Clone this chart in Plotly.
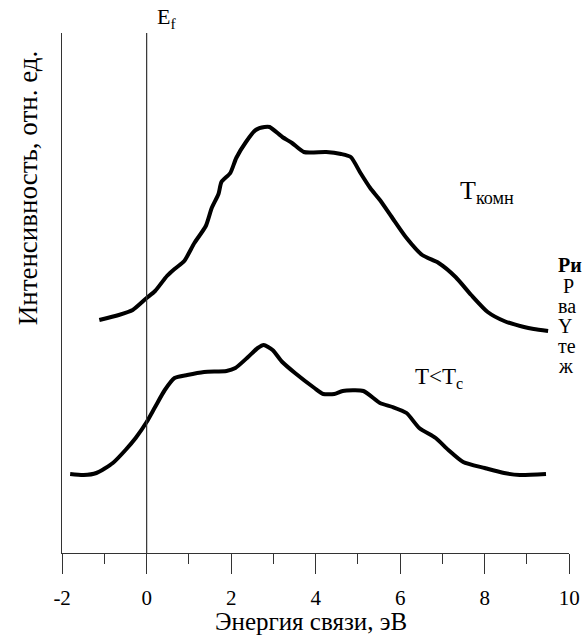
import plotly.graph_objects as go

# Binding energy (eV) and intensity (arb. units)
upper_x = [-1.12, -0.66, -0.33, 0.0, 0.20, 0.48, 0.66, 0.89, 1.13, 1.40, 1.54, 1.70, 1.77,
           1.98, 2.12, 2.35, 2.58, 2.79, 2.91, 3.21, 3.44, 3.72, 4.25, 4.60, 4.83, 5.06,
           5.29, 5.52, 5.80, 6.15, 6.52, 6.91, 7.31, 7.68, 8.07, 8.46, 8.93, 9.16, 9.50]
upper_y = [2.33, 2.38, 2.43, 2.55, 2.62, 2.77, 2.84, 2.92, 3.10, 3.27, 3.45, 3.59, 3.71,
           3.80, 3.95, 4.11, 4.23, 4.26, 4.26, 4.16, 4.10, 4.01, 4.01, 3.99, 3.96, 3.80,
           3.65, 3.53, 3.36, 3.15, 2.98, 2.90, 2.76, 2.58, 2.41, 2.32, 2.26, 2.24, 2.22]

lower_x = [-1.81, -1.49, -1.19, -0.80, -0.50, -0.26, 0.0, 0.20, 0.43, 0.66, 0.96, 1.36,
           1.89, 2.10, 2.40, 2.63, 2.77, 2.98, 3.21, 3.51, 3.97, 4.18, 4.44, 4.64, 5.13,
           5.52, 5.82, 6.15, 6.45, 6.84, 7.14, 7.49, 8.00, 8.46, 8.83, 9.45]
lower_y = [0.79, 0.78, 0.80, 0.90, 1.03, 1.15, 1.31, 1.46, 1.63, 1.75, 1.78, 1.81,
           1.82, 1.85, 1.96, 2.05, 2.08, 2.03, 1.91, 1.80, 1.65, 1.59, 1.59, 1.62, 1.62,
           1.50, 1.46, 1.40, 1.25, 1.15, 1.03, 0.91, 0.85, 0.80, 0.78, 0.79]

x_ticks = [-2, 0, 2, 4, 6, 8, 10]
x_tick_labels = ["-2", "0", "2", "4", "6", "8", "10"]
fermi_level = 0.0

FONT = "Liberation Serif, Times New Roman, DejaVu Serif, serif"
W, H = 587, 636
X0, X1, Y0, Y1 = 55, 580, 33, 553  # plot area in pixels

fig = go.Figure()
for xs, ys in [(upper_x, upper_y), (lower_x, lower_y)]:
    fig.add_trace(go.Scatter(x=xs, y=ys, mode="lines",
                             line=dict(color="black", width=4, shape="spline", smoothing=0.6),
                             showlegend=False, hoverinfo="skip"))

# Fermi level line
fig.add_shape(type="line", xref="x", yref="paper", x0=fermi_level, x1=fermi_level,
              y0=1 - Y1 / H, y1=1 - Y0 / H, line=dict(color="#333", width=1.2))

fig.update_layout(
    width=W, height=H, margin=dict(l=0, r=0, t=0, b=0),
    paper_bgcolor="white", plot_bgcolor="white",
    font=dict(family=FONT, color="black", size=21),
    xaxis=dict(domain=[X0 / W, X1 / W], range=[-2, 10], tickvals=x_ticks, ticktext=x_tick_labels,
               showline=True, linecolor="#333", linewidth=1.3, showgrid=False, zeroline=False,
               ticks="outside", ticklen=20, tickwidth=1.3, tickcolor="#333",
               minor=dict(ticks="outside", ticklen=10, tickwidth=1.3, tickcolor="#333", dtick=1),
               tickfont=dict(size=21, family=FONT, color="black"), ticklabelstandoff=6,
               ticklabeloverflow="allow"),
    yaxis=dict(domain=[1 - Y1 / H, 1 - Y0 / H], range=[0, 5.2],
               showline=True, linecolor="#333", linewidth=1.3, showgrid=False, zeroline=False,
               showticklabels=False, ticks=""),
)

ann = [
    dict(text="Энергия связи, эВ", x=(55 + 570) / 2 / W, y=1 - 621 / H, size=25),
    dict(text="Интенсивность, отн. ед.", x=20 / W, y=1 - 188 / H, size=27, textangle=-90),
    dict(text="E<sub>f</sub>", x=163 / W, y=1 - 18 / H, size=22),
    dict(text="T<sub>комн</sub>", x=495 / W, y=1 - 192 / H, size=26),
    dict(text="T&lt;T<sub>c</sub>", x=445 / W, y=1 - 378 / H, size=23),
]
for a in ann:
    fig.add_annotation(text=a["text"], xref="paper", yref="paper", x=a["x"], y=a["y"],
                       showarrow=False, textangle=a.get("textangle", 0),
                       font=dict(family=FONT, size=a["size"], color="black"),
                       xanchor="center", yanchor="middle")

# Cropped caption fragments at the right edge
frags = [("<b>Ри</b>", 265), (" Р", 286), ("ва", 306), ("Y", 326), ("те", 346), ("ж", 366)]
for t, yp in frags:
    fig.add_annotation(text=t, xref="paper", yref="paper", x=566 / W, y=1 - yp / H,
                       showarrow=False, xanchor="left", yanchor="middle",
                       font=dict(family=FONT, size=20, color="black"))

fig.write_html("out.html")
